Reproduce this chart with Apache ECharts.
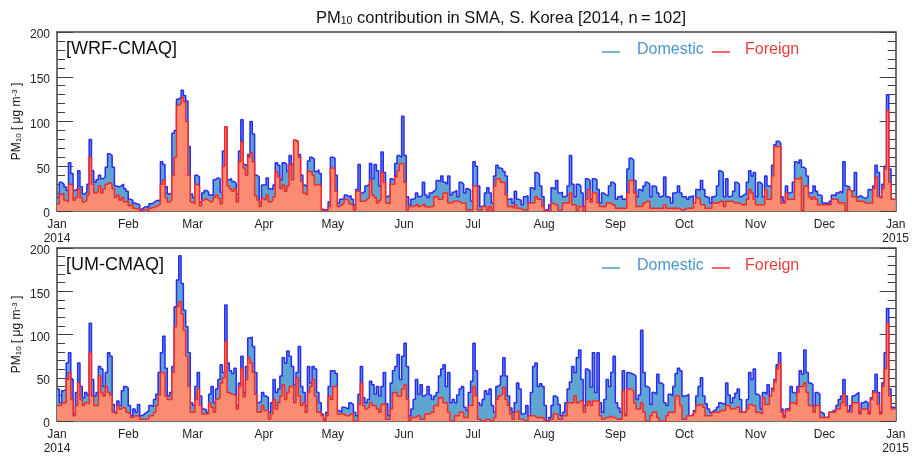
<!DOCTYPE html>
<html>
<head>
<meta charset="utf-8">
<script src="https://cdn.jsdelivr.net/npm/echarts@6/dist/echarts.min.js"></script>
<style>html,body{margin:0;padding:0;background:#fff;} #chart{width:912px;height:456px;}</style>
</head>
<body>
<div id="chart"></div>
<script>
// month ticks (day of year) and their labels
var monthStarts = [0, 31, 59, 90, 120, 151, 181, 212, 243, 273, 304, 334, 365];
var monthLabels = ['Jan', 'Feb', 'Mar', 'Apr', 'May', 'Jun', 'Jul', 'Aug', 'Sep', 'Oct', 'Nov', 'Dec', 'Jan'];
var yearLabels = ['2014', '', '', '', '', '', '', '', '', '', '', '', '2015'];

// WRF-CMAQ, daily total (domestic + foreign) and foreign part
var wrfTotal = [
  15, 32, 30, 27, 23, 54, 42, 23, 25, 45, 27, 19, 21, 30, 80, 45, 32, 35, 40, 36, 38, 49, 64, 62, 49, 28, 27, 28, 30, 25, 22,
  13, 12, 9, 8, 7, 2, 4, 5, 4, 8, 9, 11, 12, 11, 55, 52, 27, 19, 20, 87, 90, 125, 127, 135, 129, 123, 72, 19,
  15, 40, 38, 10, 20, 23, 21, 18, 17, 35, 37, 36, 21, 67, 94, 35, 36, 33, 31, 19, 67, 102, 52, 50, 63, 100, 86, 40, 38, 10, 29,
  29, 37, 25, 24, 29, 54, 51, 35, 54, 52, 44, 62, 52, 79, 78, 63, 40, 29, 27, 56, 60, 58, 44, 46, 42, 2, 1, 2, 10, 60,
  59, 40, 9, 13, 14, 18, 16, 17, 13, 7, 24, 52, 20, 22, 28, 30, 53, 36, 52, 45, 28, 66, 43, 16, 18, 36, 34, 53, 62, 60, 106,
  62, 16, 7, 13, 14, 20, 16, 17, 32, 18, 15, 20, 22, 24, 34, 33, 39, 32, 30, 39, 18, 21, 23, 16, 32, 30, 20, 25, 23, 11,
  55, 50, 28, 5, 6, 20, 26, 20, 9, 39, 51, 48, 47, 44, 39, 13, 14, 9, 22, 13, 12, 7, 16, 17, 9, 26, 24, 43, 41, 28, 16,
  1, 2, 7, 26, 24, 34, 20, 21, 16, 17, 28, 62, 30, 16, 30, 28, 20, 5, 36, 34, 13, 36, 35, 24, 9, 20, 18, 17, 28, 32, 30,
  13, 16, 17, 13, 14, 47, 59, 57, 34, 16, 24, 22, 28, 32, 30, 16, 28, 27, 20, 16, 17, 38, 16, 15, 9, 20, 21, 28, 20, 16,
  16, 13, 16, 17, 9, 24, 23, 34, 24, 16, 15, 9, 16, 17, 28, 45, 43, 16, 36, 16, 17, 22, 32, 30, 16, 18, 19, 32, 45, 39, 43,
  16, 32, 30, 16, 39, 28, 27, 51, 74, 78, 76, 16, 11, 28, 20, 21, 32, 55, 53, 57, 49, 47, 39, 20, 21, 28, 22, 18, 17, 9,
  9, 7, 11, 18, 17, 20, 22, 20, 55, 28, 27, 22, 23, 43, 16, 17, 15, 14, 16, 24, 23, 28, 51, 43, 16, 30, 50, 130, 47, 13, 12
];
var wrfForeign = [
  8, 18, 20, 12, 10, 30, 28, 12, 15, 25, 15, 10, 12, 18, 60, 30, 20, 22, 28, 20, 25, 30, 32, 30, 25, 15, 18, 12, 15, 10, 12,
  6, 8, 3, 2, 4, 0, 1, 2, 0, 3, 4, 5, 6, 8, 30, 35, 15, 10, 12, 40, 60, 118, 120, 127, 122, 100, 40, 10,
  8, 30, 28, 6, 12, 14, 12, 10, 12, 15, 18, 14, 8, 50, 94, 28, 25, 22, 25, 10, 55, 77, 48, 40, 60, 65, 55, 17, 12, 5, 14,
  12, 18, 10, 12, 16, 44, 38, 25, 29, 22, 28, 52, 35, 79, 77, 60, 33, 20, 18, 44, 44, 40, 29, 30, 28, 1, 0, 1, 5, 48,
  47, 22, 5, 7, 9, 13, 12, 8, 6, 1, 22, 22, 11, 11, 13, 15, 34, 18, 15, 9, 12, 43, 32, 9, 8, 30, 30, 38, 45, 53, 53,
  32, 1, 5, 5, 6, 8, 5, 6, 8, 5, 4, 5, 5, 16, 16, 13, 13, 20, 20, 9, 9, 11, 11, 11, 9, 9, 9, 1, 1, 1,
  28, 28, 1, 1, 5, 5, 0, 5, 0, 28, 36, 36, 32, 32, 18, 5, 5, 3, 7, 3, 3, 1, 1, 1, 9, 9, 9, 16, 13, 13, 5,
  0, 0, 0, 9, 7, 7, 1, 1, 9, 9, 9, 20, 7, 7, 0, 5, 5, 0, 13, 24, 10, 20, 20, 9, 5, 5, 5, 9, 9, 7, 7,
  3, 3, 3, 3, 3, 20, 34, 34, 20, 5, 5, 5, 9, 11, 11, 3, 3, 3, 3, 3, 3, 7, 3, 3, 3, 3, 3, 3, 1, 1,
  3, 3, 3, 3, 9, 15, 13, 7, 7, 3, 3, 3, 9, 9, 9, 11, 11, 5, 11, 11, 11, 9, 9, 9, 7, 7, 7, 13, 24, 20, 13,
  7, 7, 7, 7, 24, 13, 13, 39, 72, 72, 72, 9, 9, 20, 13, 13, 13, 36, 36, 38, 0, 28, 28, 16, 13, 16, 13, 7, 7, 7,
  7, 7, 7, 13, 13, 13, 9, 9, 9, 0, 24, 22, 16, 16, 11, 11, 11, 9, 9, 9, 9, 25, 38, 16, 14, 25, 47, 112, 32, 13, 13
];

// UM-CMAQ, daily total (domestic + foreign) and foreign part
var umTotal = [
  37, 21, 35, 37, 67, 79, 48, 8, 33, 67, 40, 27, 33, 30, 113, 48, 29, 33, 63, 60, 40, 56, 79, 75, 19, 10, 23, 18, 35, 40, 38,
  18, 6, 14, 10, 19, 6, 8, 10, 12, 18, 17, 25, 31, 56, 79, 98, 61, 29, 33, 63, 132, 163, 191, 159, 128, 109, 79, 21,
  18, 40, 56, 29, 14, 13, 10, 31, 40, 21, 37, 48, 65, 56, 134, 67, 58, 55, 61, 18, 44, 75, 33, 63, 96, 97, 86, 56, 21, 23, 33,
  29, 27, 10, 21, 48, 33, 37, 52, 73, 67, 81, 75, 63, 42, 56, 86, 40, 33, 18, 63, 44, 63, 60, 33, 21, 8, 2, 10, 40, 58,
  58, 55, 12, 10, 16, 15, 14, 21, 19, 10, 6, 31, 63, 27, 21, 25, 46, 42, 31, 40, 29, 40, 56, 20, 6, 44, 58, 63, 77, 48, 75,
  90, 63, 6, 14, 25, 48, 31, 42, 29, 31, 40, 30, 25, 29, 33, 52, 60, 65, 40, 56, 21, 25, 21, 30, 37, 40, 16, 12, 33, 46,
  90, 58, 21, 18, 25, 35, 31, 37, 18, 10, 40, 42, 52, 73, 52, 29, 15, 10, 21, 44, 37, 8, 9, 18, 6, 33, 63, 67, 40, 43, 40,
  18, 0, 4, 18, 29, 27, 19, 6, 10, 21, 37, 45, 63, 56, 73, 82, 48, 18, 60, 58, 39, 79, 33, 79, 21, 10, 25, 48, 40, 56, 75,
  21, 15, 10, 58, 8, 56, 55, 54, 52, 25, 30, 105, 56, 40, 38, 19, 33, 31, 54, 44, 42, 21, 18, 31, 29, 40, 55, 61, 58, 29,
  29, 31, 6, 8, 12, 29, 40, 50, 29, 20, 14, 10, 12, 13, 16, 21, 20, 19, 44, 30, 21, 27, 32, 37, 25, 10, 11, 25, 56, 48, 60,
  31, 29, 14, 33, 31, 42, 29, 38, 48, 65, 79, 14, 6, 14, 15, 40, 33, 31, 40, 58, 54, 82, 56, 44, 42, 18, 33, 31, 10, 8,
  4, 5, 10, 12, 13, 18, 25, 29, 48, 29, 12, 18, 29, 31, 33, 10, 21, 23, 21, 10, 27, 35, 54, 33, 10, 44, 79, 130, 37, 16, 15
];
var umForeign = [
  18, 18, 21, 21, 48, 56, 25, 6, 18, 44, 25, 18, 21, 20, 79, 29, 18, 18, 52, 33, 29, 40, 33, 30, 10, 8, 18, 14, 16, 14, 10,
  8, 4, 6, 6, 5, 2, 2, 2, 3, 6, 6, 10, 18, 30, 56, 56, 29, 25, 25, 56, 109, 132, 138, 124, 105, 75, 40, 10,
  10, 25, 37, 18, 8, 8, 8, 21, 16, 10, 25, 27, 44, 50, 92, 33, 31, 31, 29, 14, 40, 61, 28, 48, 73, 67, 56, 31, 10, 10, 18,
  12, 12, 2, 8, 25, 14, 21, 29, 42, 25, 33, 40, 40, 21, 50, 29, 18, 21, 10, 33, 40, 48, 29, 10, 10, 6, 0, 6, 29, 25,
  40, 40, 8, 8, 8, 6, 6, 8, 8, 0, 0, 19, 44, 18, 14, 16, 21, 18, 18, 14, 10, 19, 21, 2, 2, 14, 33, 33, 29, 29, 37,
  42, 25, 0, 4, 4, 6, 6, 2, 2, 8, 8, 10, 10, 18, 18, 27, 27, 21, 21, 10, 0, 0, 6, 6, 10, 10, 4, 4, 18, 18,
  40, 29, 2, 0, 0, 2, 2, 0, 0, 4, 25, 29, 31, 39, 25, 18, 8, 2, 10, 12, 2, 2, 0, 0, 6, 6, 6, 4, 4, 4, 4,
  0, 0, 2, 2, 8, 8, 2, 2, 6, 6, 21, 21, 21, 29, 21, 23, 23, 10, 18, 23, 18, 23, 23, 23, 6, 2, 4, 4, 6, 4, 4,
  2, 2, 2, 35, 6, 37, 37, 35, 21, 14, 14, 21, 10, 0, 0, 6, 10, 10, 4, 0, 0, 0, 6, 10, 10, 10, 29, 29, 18, 2,
  2, 6, 6, 6, 10, 18, 19, 19, 16, 6, 6, 6, 10, 10, 10, 12, 12, 12, 18, 18, 14, 14, 16, 16, 10, 10, 10, 14, 19, 18, 18,
  10, 10, 8, 27, 19, 19, 29, 35, 45, 60, 67, 10, 4, 12, 12, 21, 21, 19, 33, 40, 40, 44, 33, 18, 18, 10, 18, 18, 4, 4,
  4, 4, 10, 10, 10, 14, 14, 21, 31, 18, 10, 10, 21, 21, 21, 8, 14, 14, 14, 8, 25, 33, 33, 19, 8, 40, 60, 113, 29, 14, 14
];

var font = 'Liberation Sans, Arial, Helvetica, sans-serif';
var frame = '#404040';
var blueLine = '#2a2af2', blueFill = '#5fa5d2';
var redLine = '#f22a2a', redFill = '#fa8c72';

var chart = echarts.init(document.getElementById('chart'));

// each daily value is held for the whole day
function stepData(vals) {
    var pts = vals.map(function (v, i) { return [i, v]; });
    pts.push([vals.length, vals[vals.length - 1]]);
    return pts;
}

function monthLabel(v) {
    var i = monthStarts.indexOf(v);
    if (i < 0) return '';
    return yearLabels[i] ? monthLabels[i] + '\n' + yearLabels[i] : monthLabels[i];
}

function xAxes(grid) {
    return [{
        type: 'value', gridIndex: grid, min: 0, max: 365, position: 'bottom',
        axisLine: {show: true, onZero: false, lineStyle: {color: frame, width: 1.5}},
        axisTick: {show: true, inside: true, length: 4, customValues: monthStarts, lineStyle: {color: frame}},
        axisLabel: {customValues: monthStarts, formatter: monthLabel, fontFamily: font, fontSize: 12,
            color: '#222', margin: 7, lineHeight: 14},
        splitLine: {show: false}
    }, {
        type: 'value', gridIndex: grid, min: 0, max: 365, position: 'top',
        axisLine: {show: true, onZero: false, lineStyle: {color: frame, width: 1.5}},
        axisTick: {show: false}, axisLabel: {show: false}, splitLine: {show: false}
    }];
}

function yAxes(grid) {
    var ticks = {show: true, inside: true, length: 16, lineStyle: {color: frame}};
    var minor = {show: true, splitNumber: 5, length: 8, lineStyle: {color: frame}};
    return [{
        type: 'value', gridIndex: grid, min: 0, max: 200, interval: 50, position: 'left',
        name: 'PM{sub|10} [ \u03bcg m{sup|-3} ]', nameLocation: 'middle', nameRotate: 90,
        nameGap: 34, nameMoveOverlap: false,
        nameTextStyle: {fontFamily: font, fontSize: 12, color: '#111', rich: {
            sub: {fontSize: 8, verticalAlign: 'bottom', fontFamily: font, color: '#111'},
            sup: {fontSize: 8, verticalAlign: 'top', fontFamily: font, color: '#111'}
        }},
        axisLine: {show: true, onZero: false, lineStyle: {color: frame, width: 1.5}},
        axisTick: ticks, minorTick: minor,
        axisLabel: {
            formatter: '{v|{value}}', margin: 7,
            rich: {v: {fontFamily: font, fontSize: 12, color: '#222', padding: [6, 0, 0, 0]}}
        },
        splitLine: {show: false}
    }, {
        type: 'value', gridIndex: grid, min: 0, max: 200, interval: 50, position: 'right',
        axisLine: {show: true, onZero: false, lineStyle: {color: frame, width: 1.5}},
        axisTick: ticks, minorTick: minor,
        axisLabel: {show: false}, splitLine: {show: false}
    }];
}

function panelSeries(total, foreign, xi, yi) {
    return [{
        name: 'Domestic', type: 'line', step: 'end', symbol: 'none',
        xAxisIndex: xi, yAxisIndex: yi, z: 2,
        data: stepData(total),
        lineStyle: {color: blueLine, width: 1.5},
        itemStyle: {color: blueLine},
        areaStyle: {color: blueFill, opacity: 1}
    }, {
        name: 'Foreign', type: 'line', step: 'end', symbol: 'none',
        xAxisIndex: xi, yAxisIndex: yi, z: 3,
        data: stepData(foreign),
        lineStyle: {color: redLine, width: 1.5},
        itemStyle: {color: redLine},
        areaStyle: {color: redFill, opacity: 1}
    }];
}

function panelText(label, y) {
    return [
        {type: 'text', left: 66, top: y - 11, style: {text: label, font: '18px ' + font, fill: '#111'}},
        {type: 'line', shape: {x1: 602, y1: y + 1, x2: 620, y2: y + 1}, style: {stroke: '#4c9bd6', lineWidth: 1.5}},
        {type: 'text', left: 637, top: y - 9, style: {text: 'Domestic', font: '16px ' + font, fill: '#4a95cf'}},
        {type: 'line', shape: {x1: 712, y1: y + 1, x2: 730, y2: y + 1}, style: {stroke: '#ee3333', lineWidth: 1.5}},
        {type: 'text', left: 745, top: y - 9, style: {text: 'Foreign', font: '16px ' + font, fill: '#ee4040'}}
    ];
}

var option = {
    animation: false,
    backgroundColor: '#fff',
    title: {
        text: 'PM{sub|10} contribution in SMA, S. Korea [2014, n\u2009=\u2009102]',
        left: 311, top: 5,
        textStyle: {fontFamily: font, fontSize: 16.5, fontWeight: 'normal', color: '#111', rich: {
            sub: {fontSize: 10.5, verticalAlign: 'bottom', fontFamily: font, color: '#111'}
        }}
    },
    grid: [
        {left: 57, right: 13, top: 32, height: 179},
        {left: 57, right: 13, top: 248, height: 180}
    ],
    xAxis: xAxes(0).concat(xAxes(1)),
    yAxis: yAxes(0).concat(yAxes(1)),
    series: panelSeries(wrfTotal, wrfForeign, 0, 0).concat(panelSeries(umTotal, umForeign, 2, 2)),
    graphic: panelText('[WRF-CMAQ]', 51).concat(panelText('[UM-CMAQ]', 267))
};
chart.setOption(option);
</script>
</body>
</html>
